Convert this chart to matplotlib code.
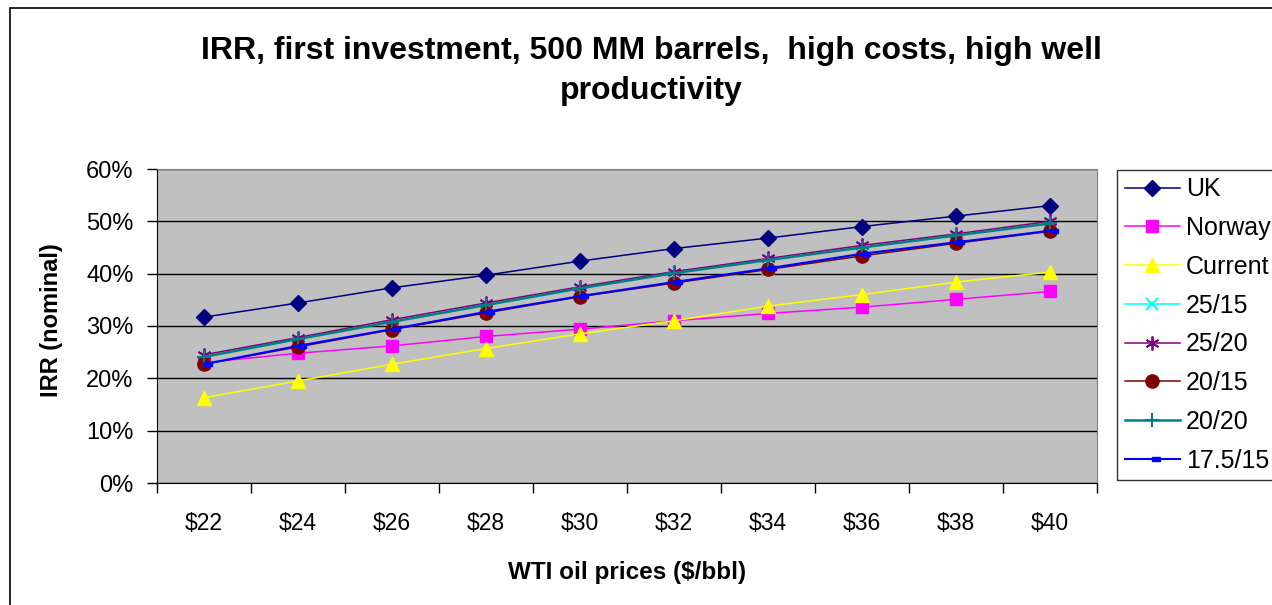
import matplotlib
matplotlib.use("Agg")
import matplotlib.pyplot as plt
from matplotlib.patches import Rectangle

plt.rcParams['font.family'] = ['Liberation Sans', 'DejaVu Sans']

# WTI price cases and IRR (%) per fiscal regime
prices = ["$22", "$24", "$26", "$28", "$30", "$32", "$34", "$36", "$38", "$40"]
uk = [31.7, 34.4, 37.3, 39.7, 42.4, 44.8, 46.8, 49.0, 51.0, 53.0]
norway = [23.0, 24.8, 26.2, 28.0, 29.4, 31.0, 32.4, 33.6, 35.1, 36.6]
current = [16.3, 19.5, 22.7, 25.7, 28.5, 31.0, 33.8, 36.0, 38.4, 40.3]
r25_15 = [22.8, 26.1, 29.4, 32.6, 35.7, 38.3, 40.9, 43.5, 45.9, 48.1]
r25_20 = [24.5, 27.8, 31.2, 34.4, 37.5, 40.4, 42.9, 45.4, 47.6, 50.0]
r20_15 = [22.7, 26.0, 29.3, 32.5, 35.6, 38.2, 40.8, 43.4, 45.8, 48.1]
r20_20 = [24.1, 27.5, 30.8, 34.0, 37.2, 40.1, 42.6, 45.0, 47.3, 49.6]
r175_15 = [22.7, 26.2, 29.4, 32.7, 35.7, 38.4, 41.0, 43.8, 46.0, 48.2]

W, H = 1272, 605
fig = plt.figure(figsize=(W / 100, H / 100), dpi=100)
fig.patch.set_facecolor("white")

# outer chart border
fig.patches.append(Rectangle((10 / W, -0.1), 1.2, (H - 8) / H + 0.1, transform=fig.transFigure,
                             fill=False, edgecolor="black", linewidth=1.2))

ax = fig.add_axes([157 / W, 1 - 483 / H, 940 / W, 314 / H])
ax.set_facecolor("#C0C0C0")

x = list(range(len(prices)))
dash = [(0, -0.2), (1, -0.2), (1, 0.2), (0, 0.2), (0, -0.2)]

ax.plot(x, uk, color="#000080", lw=1.1, marker="D", ms=8, label="UK")
ax.plot(x, norway, color="#FF00FF", lw=1.1, marker="s", ms=8.5, label="Norway")
ax.plot(x, current, color="#FFFF00", lw=1.1, marker="^", ms=10, label="Current")
ax.plot(x, r25_15, color="#00FFFF", lw=1.1, marker="x", ms=9, mew=1.5, label="25/15")
ax.plot(x, r25_20, color="#800080", lw=1.1, marker=(6, 2, 0), ms=10, mew=1.3, label="25/20")
ax.plot(x, r20_15, color="#800000", lw=1.1, marker="o", ms=9.5, label="20/15")
ax.plot(x, r20_20, color="#008080", lw=1.8, marker="+", ms=10, mew=1.5, label="20/20")
ax.plot(x, r175_15, color="#0000FF", lw=1.5, marker=dash, ms=11.5, label="17.5/15")

ax.set_xlim(-0.5, len(prices) - 0.5)
ax.set_ylim(0, 60)
ax.set_yticks(range(0, 61, 10))
ax.set_yticklabels([f"{v}%" for v in range(0, 61, 10)], fontsize=17)
ax.yaxis.grid(True, color="black", lw=1)
ax.set_axisbelow(True)

# tick marks between categories, labels centred on categories
ax.set_xticks([i - 0.5 for i in range(len(prices) + 1)])
ax.set_xticklabels([])
ax.set_xticks(x, minor=True)
ax.set_xticklabels(prices, minor=True, fontsize=16.5)
ax.tick_params(axis="x", which="major", direction="out", length=7, width=1)
ax.tick_params(axis="x", which="minor", length=0, pad=21)
ax.tick_params(axis="y", direction="out", length=7, width=1, pad=10)

for side in ["top", "right"]:
    ax.spines[side].set_color("#808080")
for side in ["left", "bottom"]:
    ax.spines[side].set_color("black")

fig.text(651 / W, 1 - 71 / H, "IRR, first investment, 500 MM barrels,  high costs, high well\nproductivity",
         ha="center", va="center", fontsize=23, fontweight="bold", linespacing=1.45)
fig.text(627 / W, 1 - 572 / H, "WTI oil prices ($/bbl)", ha="center", va="center",
         fontsize=17.5, fontweight="bold")
fig.text(52 / W, 1 - 320 / H, "IRR (nominal)", ha="center", va="center", rotation=90,
         fontsize=17, fontweight="bold")

leg = fig.legend(loc="upper left", bbox_to_anchor=(1117 / W, 1 - 170 / H), borderaxespad=0,
                 fontsize=18, frameon=True, fancybox=False, edgecolor="black",
                 handlelength=2.2, handletextpad=0.25, labelspacing=0.59, borderpad=0.3)
leg.get_frame().set_linewidth(1)

fig.savefig("out.png", dpi=100)
